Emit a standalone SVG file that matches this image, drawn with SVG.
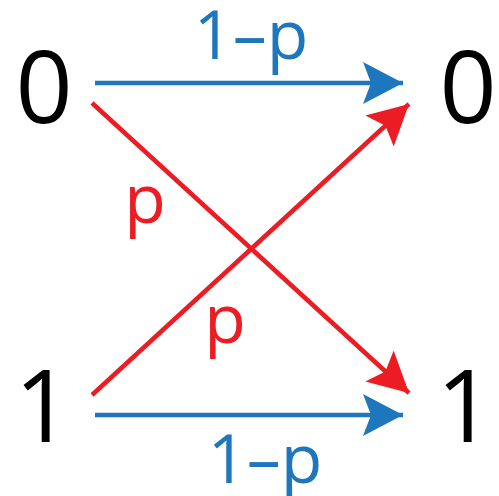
<svg xmlns="http://www.w3.org/2000/svg" width="499" height="496" viewBox="0 0 499 496">
<style>
.blue{stroke:#1e76bd;stroke-width:4.5;fill:none}
.red{stroke:#ec1c24;stroke-width:4.5;fill:none}
.node{font-family:"Open Sans","Liberation Sans",sans-serif;font-size:100px;fill:#000;text-anchor:middle}
.lb{font-family:"Open Sans","Liberation Sans",sans-serif;font-size:68px;text-anchor:middle}
</style>
<defs>
<marker id="ab" markerUnits="userSpaceOnUse" markerWidth="50" markerHeight="50" refX="40" refY="21" orient="auto" viewBox="0 0 50 50">
<path d="M40,21 L0,0 L8,21 L0,42 Z" fill="#1e76bd"/>
</marker>
<marker id="ar" markerUnits="userSpaceOnUse" markerWidth="50" markerHeight="50" refX="40" refY="21" orient="auto" viewBox="0 0 50 50">
<path d="M40,21 L0,0 L8,21 L0,42 Z" fill="#ec1c24"/>
</marker>
</defs>
<g id="in0"><text class="node" x="44" y="123">0</text></g>
<g id="in1"><text class="node" x="43" y="442">1</text></g>
<g id="out0"><text class="node" x="468" y="123">0</text></g>
<g id="out1"><text class="node" x="465" y="442">1</text></g>
<g id="connectors">
<line class="blue" x1="95" y1="83" x2="403" y2="83" marker-end="url(#ab)"/>
<line class="blue" x1="95" y1="415" x2="403" y2="415" marker-end="url(#ab)"/>
<line class="red" x1="92" y1="103" x2="409" y2="393" marker-end="url(#ar)"/>
<line class="red" x1="92" y1="395" x2="409" y2="104" marker-end="url(#ar)"/>
<text class="lb" x="251" y="59" fill="#1e76bd">1–p</text>
<text class="lb" x="265" y="483" fill="#1e76bd">1–p</text>
<text class="lb" x="145" y="223" fill="#ec1c24">p</text>
<text class="lb" x="225" y="343" fill="#ec1c24">p</text>
</g>
</svg>
